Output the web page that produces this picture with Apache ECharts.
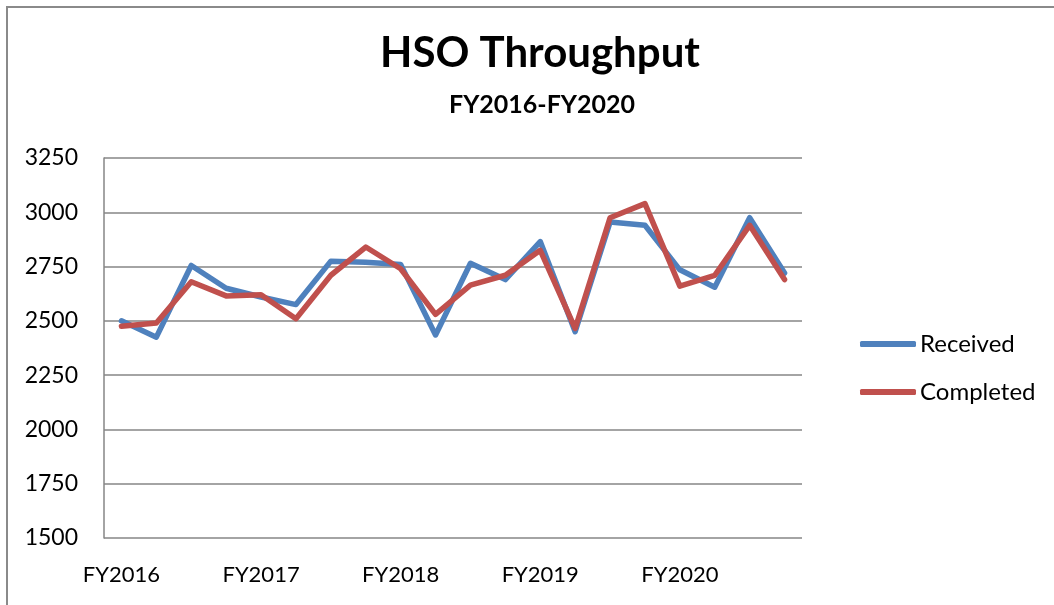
<!DOCTYPE html>
<html>
<head>
<meta charset="utf-8">
<script src="https://cdn.jsdelivr.net/npm/echarts@6/dist/echarts.min.js"></script>
<style>
html,body{margin:0;padding:0;background:#fff;}
#chart{width:1054px;height:605px;}
</style>
</head>
<body>
<div id="chart"></div>
<script>
const categories = [
  'FY2016 Q1','FY2016 Q2','FY2016 Q3','FY2016 Q4',
  'FY2017 Q1','FY2017 Q2','FY2017 Q3','FY2017 Q4',
  'FY2018 Q1','FY2018 Q2','FY2018 Q3','FY2018 Q4',
  'FY2019 Q1','FY2019 Q2','FY2019 Q3','FY2019 Q4',
  'FY2020 Q1','FY2020 Q2','FY2020 Q3','FY2020 Q4'
];
const received = [2500, 2425, 2755, 2650, 2610, 2575, 2775, 2770, 2760, 2435,
                  2765, 2690, 2865, 2450, 2955, 2940, 2735, 2655, 2975, 2720];
const completed = [2475, 2490, 2680, 2615, 2620, 2510, 2710, 2840, 2740, 2530,
                   2665, 2710, 2825, 2465, 2975, 3040, 2660, 2710, 2940, 2690];
const yTicks = {min: 1500, max: 3250, interval: 250};

const FONT = 'Lato';
const chart = echarts.init(document.getElementById('chart'), null, {renderer: 'canvas'});
chart.setOption({
  backgroundColor: '#ffffff',
  animation: false,
  title: [
    {text: 'HSO Throughput', left: 535, top: 27, textAlign: 'center',
     textStyle: {fontFamily: FONT, fontWeight: 'bold', fontSize: 42, color: '#000'}},
    {text: 'FY2016-FY2020', left: 537, top: 87, textAlign: 'center',
     textStyle: {fontFamily: FONT, fontWeight: 'bold', fontSize: 25, color: '#000'}}
  ],
  legend: {
    orient: 'vertical', left: 860, top: 332, padding: 0, itemWidth: 56, itemHeight: 6, itemGap: 24,
    icon: 'roundRect',
    textStyle: {fontFamily: FONT, fontSize: 24, color: '#000', padding: [0, 0, 0, -1]},
    data: ['Received', 'Completed']
  },
  grid: {left: 104, right: 252, top: 158, bottom: 67, containLabel: false},
  xAxis: {
    type: 'category', data: categories, boundaryGap: true,
    axisLine: {show: false}, axisTick: {show: false},
    axisLabel: {interval: 3, margin: 26, fontFamily: FONT, fontSize: 22, color: '#000',
      formatter: v => v.split(' ')[0]},
    splitLine: {show: false}
  },
  yAxis: {
    type: 'value', min: yTicks.min, max: yTicks.max, interval: yTicks.interval,
    axisLine: {show: true, lineStyle: {color: '#868686', width: 1.5}},
    axisTick: {show: false},
    axisLabel: {margin: 26, fontFamily: FONT, fontSize: 23, color: '#000',
      formatter: v => String(v)},
    splitLine: {show: true, lineStyle: {color: '#868686', width: 1.5}}
  },
  series: [
    {name: 'Received', type: 'line', data: received, symbol: 'none',
     lineStyle: {color: '#4F81BD', width: 5.5, join: 'round', cap: 'round'},
     itemStyle: {color: '#4F81BD'}},
    {name: 'Completed', type: 'line', data: completed, symbol: 'none',
     lineStyle: {color: '#C0504D', width: 5.5, join: 'round', cap: 'round'},
     itemStyle: {color: '#C0504D'}}
  ],
  graphic: [
    {type: 'polyline', shape: {points: [[7, 605], [7, 7], [1054, 7]]},
     style: {stroke: '#8a8a8a', lineWidth: 2, fill: null}, silent: true}
  ]
});
</script>
</body>
</html>
